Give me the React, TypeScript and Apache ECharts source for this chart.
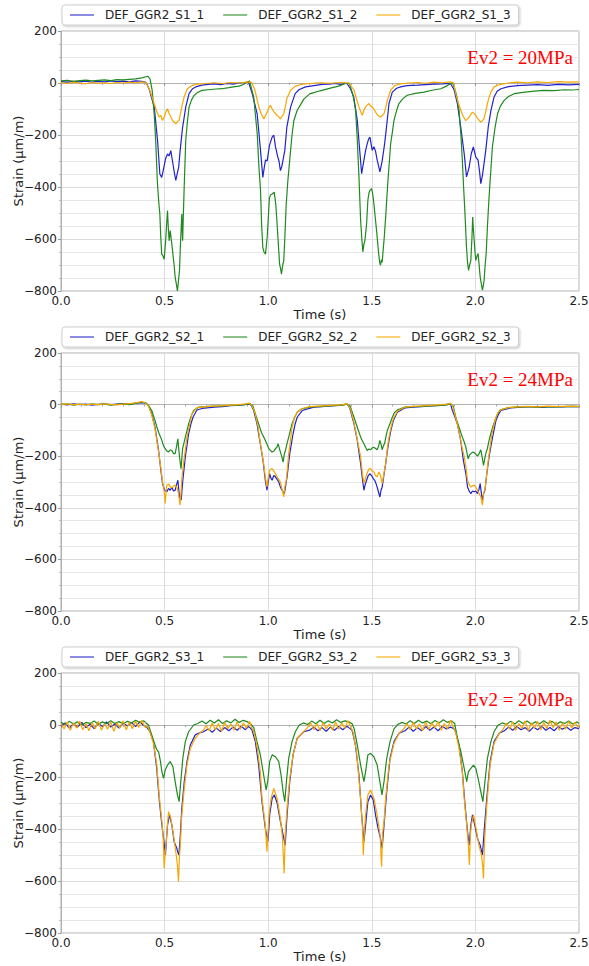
import React, { useEffect, useRef } from "react";
import * as echarts from "echarts";

// ---------- data (time s, strain µm/m) ----------
const xTicks = [0, 0.5, 1.0, 1.5, 2.0, 2.5];
const yTicks = [-800, -600, -400, -200, 0, 200];

const namesS1 = ["DEF_GGR2_S1_1", "DEF_GGR2_S1_2", "DEF_GGR2_S1_3"];
const namesS2 = ["DEF_GGR2_S2_1", "DEF_GGR2_S2_2", "DEF_GGR2_S2_3"];
const namesS3 = ["DEF_GGR2_S3_1", "DEF_GGR2_S3_2", "DEF_GGR2_S3_3"];
const annotations = ["Ev2 = 20MPa", "Ev2 = 24MPa", "Ev2 = 20MPa"];

const s1_1: number[][] = [
  [0,5],[0.03,3],[0.06,6],[0.09,4],[0.12,7],[0.15,3],[0.18,6],[0.21,4],[0.24,8],[0.27,5],[0.3,7],[0.33,4],[0.36,8],[0.39,6],[0.41,3],
  [0.425,-22],[0.45,-93],[0.466,-221],[0.477,-350],[0.486,-363],[0.495,-330],[0.505,-290],[0.514,-273],[0.522,-280],[0.53,-260],[0.538,-300],[0.546,-340],[0.554,-375],[0.562,-345],[0.568,-324],[0.575,-260],[0.586,-176],[0.602,-93],[0.618,-41],[0.635,-22],[0.65,-15],[0.68,-8],[0.71,-5],
  [0.74,-3],[0.77,-6],[0.8,-2],[0.83,-4],[0.86,0],[0.89,2],[0.905,4],
  [0.923,-41],[0.947,-120],[0.963,-260],[0.974,-363],[0.98,-330],[0.987,-296],[0.995,-300],[1.006,-240],[1.019,-208],[1.027,-200],[1.035,-245],[1.045,-280],[1.052,-300],[1.059,-337],[1.066,-320],[1.073,-290],[1.08,-260],[1.09,-170],[1.108,-93],[1.13,-41],[1.15,-25],[1.18,-15],[1.22,-10],[1.26,-5],
  [1.29,-4],[1.32,-2],[1.35,-5],[1.37,-1],
  [1.381,-3],[1.397,-22],[1.413,-54],[1.43,-144],[1.443,-272],[1.451,-349],[1.462,-297],[1.47,-260],[1.478,-233],[1.485,-215],[1.491,-208],[1.502,-259],[1.51,-245],[1.518,-262],[1.526,-297],[1.533,-320],[1.539,-342],[1.545,-320],[1.55,-300],[1.562,-233],[1.571,-169],[1.583,-79],[1.599,-35],[1.62,-20],[1.639,-15],[1.67,-10],[1.72,-8],
  [1.76,-6],[1.8,-4],[1.84,-3],[1.87,-2],
  [1.881,-4],[1.897,-25],[1.913,-79],[1.929,-169],[1.946,-272],[1.957,-361],[1.963,-345],[1.97,-323],[1.98,-272],[1.99,-246],[2.002,-285],[2.013,-297],[2.02,-340],[2.026,-387],[2.034,-355],[2.04,-320],[2.05,-259],[2.062,-169],[2.075,-105],[2.09,-54],[2.105,-32],[2.123,-22],[2.16,-14],[2.203,-10],
  [2.25,-8],[2.3,-6],[2.35,-9],[2.4,-5],[2.45,-7],[2.5,-5],
];

const s1_2: number[][] = [
  [0,8],[0.03,10],[0.06,6],[0.09,9],[0.12,11],[0.15,8],[0.18,10],[0.21,12],[0.24,9],[0.27,13],[0.3,12],[0.33,14],[0.36,16],[0.39,20],[0.41,24],[0.42,26],[0.43,15],
  [0.44,-28],[0.45,-120],[0.457,-221],[0.465,-380],[0.472,-460],[0.477,-504],[0.482,-600],[0.486,-658],[0.492,-665],[0.498,-678],[0.505,-607],[0.51,-540],[0.514,-491],[0.518,-560],[0.522,-607],[0.527,-568],[0.535,-620],[0.54,-658],[0.546,-700],[0.551,-748],[0.556,-770],[0.562,-800],[0.567,-761],[0.572,-720],[0.576,-630],[0.58,-560],[0.583,-504],[0.587,-607],[0.59,-520],[0.594,-414],[0.602,-221],[0.61,-150],[0.618,-93],[0.63,-65],[0.642,-48],[0.66,-36],[0.682,-28],[0.72,-25],[0.75,-23],[0.778,-22],[0.81,-18],[0.84,-14],[0.859,-12],[0.88,-6],[0.9,4],[0.91,8],
  [0.93,-54],[0.947,-195],[0.955,-320],[0.963,-414],[0.968,-540],[0.974,-633],[0.98,-650],[0.987,-658],[0.995,-594],[1.006,-440],[1.012,-430],[1.019,-427],[1.029,-420],[1.037,-470],[1.046,-581],[1.055,-697],[1.06,-715],[1.064,-735],[1.07,-700],[1.075,-684],[1.08,-600],[1.087,-465],[1.095,-375],[1.108,-260],[1.115,-200],[1.124,-144],[1.14,-105],[1.155,-85],[1.172,-62],[1.2,-42],[1.25,-30],[1.3,-20],[1.34,-12],[1.373,-2],[1.39,0],
  [1.397,-15],[1.41,-50],[1.422,-105],[1.43,-220],[1.438,-361],[1.446,-528],[1.452,-600],[1.457,-650],[1.462,-620],[1.467,-605],[1.475,-541],[1.481,-451],[1.487,-420],[1.491,-413],[1.499,-406],[1.505,-430],[1.51,-464],[1.517,-520],[1.523,-567],[1.533,-656],[1.538,-690],[1.542,-701],[1.546,-680],[1.55,-690],[1.555,-640],[1.559,-605],[1.567,-515],[1.572,-450],[1.578,-374],[1.585,-300],[1.591,-233],[1.6,-185],[1.607,-144],[1.62,-105],[1.631,-79],[1.65,-60],[1.671,-47],[1.71,-40],[1.752,-35],[1.79,-28],[1.833,-22],[1.86,-12],[1.875,-5],[1.889,2],
  [1.897,-15],[1.91,-50],[1.921,-105],[1.93,-200],[1.937,-297],[1.943,-400],[1.949,-490],[1.953,-560],[1.957,-631],[1.962,-690],[1.967,-721],[1.972,-700],[1.978,-682],[1.983,-600],[1.987,-515],[1.99,-560],[1.994,-605],[1.998,-650],[2.002,-682],[2.008,-665],[2.013,-656],[2.018,-700],[2.023,-746],[2.028,-770],[2.034,-797],[2.038,-780],[2.042,-759],[2.047,-700],[2.052,-656],[2.058,-554],[2.063,-480],[2.068,-413],[2.075,-330],[2.082,-246],[2.095,-170],[2.107,-118],[2.12,-90],[2.139,-67],[2.16,-52],[2.187,-41],[2.23,-36],[2.284,-31],[2.33,-28],[2.38,-29],[2.43,-26],[2.47,-27],[2.5,-25],
];

const s1_3: number[][] = [
  [0,2],[0.03,-2],[0.06,3],[0.09,0],[0.12,-3],[0.15,2],[0.18,-1],[0.21,1],[0.24,-2],[0.27,2],[0.3,0],[0.33,3],[0.36,1],[0.39,4],[0.41,2],
  [0.425,-22],[0.438,-50],[0.45,-80],[0.462,-110],[0.474,-131],[0.482,-125],[0.49,-144],[0.498,-130],[0.506,-112],[0.514,-99],[0.522,-118],[0.53,-130],[0.538,-144],[0.546,-150],[0.554,-157],[0.562,-148],[0.57,-144],[0.578,-112],[0.586,-80],[0.594,-54],[0.61,-22],[0.634,-9],[0.66,-4],[0.7,-2],
  [0.74,1],[0.78,-2],[0.82,2],[0.86,0],[0.9,4],[0.92,2],
  [0.935,-25],[0.955,-93],[0.967,-120],[0.979,-138],[0.987,-125],[0.995,-112],[1.003,-95],[1.011,-86],[1.019,-100],[1.027,-110],[1.043,-125],[1.051,-130],[1.059,-138],[1.067,-128],[1.075,-118],[1.083,-90],[1.09,-60],[1.108,-28],[1.13,-13],[1.16,-5],[1.2,-2],
  [1.25,1],[1.3,-1],[1.35,2],[1.39,0],
  [1.414,-28],[1.426,-60],[1.438,-92],[1.446,-110],[1.454,-124],[1.462,-105],[1.47,-92],[1.478,-85],[1.486,-79],[1.494,-88],[1.502,-92],[1.51,-100],[1.518,-112],[1.53,-125],[1.542,-131],[1.55,-125],[1.559,-118],[1.567,-95],[1.575,-67],[1.591,-28],[1.61,-10],[1.64,-3],
  [1.68,0],[1.72,2],[1.76,-1],[1.8,3],[1.84,1],[1.88,4],[1.895,0],
  [1.905,-41],[1.917,-75],[1.929,-105],[1.941,-128],[1.953,-144],[1.962,-138],[1.97,-131],[1.978,-120],[1.986,-112],[1.994,-118],[2.002,-125],[2.014,-140],[2.026,-150],[2.034,-145],[2.042,-136],[2.05,-110],[2.058,-79],[2.066,-55],[2.075,-35],[2.09,-15],[2.12,-5],[2.16,0],
  [2.2,3],[2.25,1],[2.3,4],[2.35,2],[2.4,5],[2.45,3],[2.5,4],
];

const s2_1: number[][] = [
  [0,2],[0.03,-1],[0.06,3],[0.09,0],[0.12,2],[0.15,-2],[0.18,1],[0.21,3],[0.24,0],[0.27,2],[0.3,4],[0.33,2],[0.36,6],[0.39,8],[0.41,5],[0.422,-4],
  [0.438,-36],[0.454,-88],[0.471,-178],[0.482,-255],[0.49,-306],[0.5,-332],[0.511,-338],[0.519,-325],[0.527,-332],[0.535,-320],[0.543,-335],[0.551,-332],[0.558,-310],[0.564,-293],[0.572,-358],[0.58,-370],[0.588,-293],[0.6,-203],[0.616,-113],[0.627,-75],[0.637,-49],[0.656,-21],[0.68,-15],[0.704,-13],
  [0.74,-10],[0.78,-8],[0.817,-4],[0.85,-3],[0.89,0],[0.91,3],[0.92,-5],
  [0.93,-23],[0.946,-75],[0.962,-152],[0.975,-216],[0.986,-293],[0.994,-332],[1.0,-300],[1.007,-268],[1.013,-285],[1.019,-293],[1.027,-275],[1.035,-280],[1.043,-290],[1.051,-300],[1.059,-320],[1.067,-332],[1.078,-345],[1.085,-310],[1.091,-280],[1.104,-190],[1.12,-113],[1.13,-75],[1.14,-49],[1.164,-23],[1.22,-10],
  [1.26,-8],[1.3,-5],[1.34,-3],[1.365,0],[1.38,2],[1.39,-8],
  [1.397,-23],[1.414,-75],[1.43,-139],[1.446,-229],[1.455,-290],[1.462,-332],[1.468,-310],[1.475,-293],[1.483,-275],[1.491,-268],[1.499,-275],[1.507,-287],[1.515,-295],[1.523,-312],[1.531,-335],[1.539,-358],[1.545,-330],[1.55,-320],[1.559,-270],[1.567,-229],[1.575,-180],[1.583,-139],[1.592,-100],[1.604,-62],[1.623,-30],[1.66,-13],
  [1.7,-10],[1.74,-8],[1.78,-5],[1.82,-3],[1.86,0],[1.88,3],
  [1.889,-23],[1.9,-45],[1.913,-75],[1.929,-139],[1.942,-216],[1.954,-268],[1.962,-319],[1.97,-335],[1.978,-345],[1.986,-335],[1.994,-338],[2.002,-335],[2.01,-345],[2.017,-330],[2.023,-306],[2.029,-345],[2.034,-370],[2.04,-345],[2.046,-332],[2.055,-268],[2.066,-203],[2.075,-160],[2.083,-126],[2.099,-62],[2.11,-40],[2.123,-23],[2.17,-13],
  [2.22,-10],[2.27,-8],[2.32,-11],[2.37,-8],[2.42,-9],[2.47,-7],[2.5,-8],
];

const s2_2: number[][] = [
  [0,0],[0.03,3],[0.06,-2],[0.09,2],[0.12,-1],[0.15,3],[0.18,0],[0.21,2],[0.24,-2],[0.27,1],[0.3,3],[0.33,0],[0.36,5],[0.39,10],[0.41,6],[0.422,-3],
  [0.438,-23],[0.454,-62],[0.462,-85],[0.471,-107],[0.48,-125],[0.487,-139],[0.495,-160],[0.503,-171],[0.511,-180],[0.519,-184],[0.527,-175],[0.535,-178],[0.543,-190],[0.551,-190],[0.557,-165],[0.564,-133],[0.568,-170],[0.572,-203],[0.579,-248],[0.583,-210],[0.587,-171],[0.593,-150],[0.6,-126],[0.616,-75],[0.628,-45],[0.64,-23],[0.664,-10],[0.7,-8],
  [0.74,-6],[0.78,-5],[0.82,-3],[0.86,-2],[0.89,1],[0.91,4],[0.925,-3],
  [0.938,-36],[0.954,-75],[0.962,-95],[0.97,-113],[0.978,-125],[0.986,-139],[0.995,-155],[1.003,-171],[1.011,-178],[1.019,-184],[1.027,-180],[1.035,-171],[1.042,-165],[1.048,-152],[1.054,-170],[1.059,-184],[1.065,-200],[1.072,-223],[1.077,-195],[1.083,-178],[1.091,-150],[1.099,-126],[1.107,-100],[1.115,-75],[1.127,-50],[1.14,-30],[1.16,-17],[1.2,-10],
  [1.24,-8],[1.28,-6],[1.32,-4],[1.36,-2],[1.38,2],[1.395,-5],
  [1.414,-49],[1.43,-88],[1.446,-126],[1.454,-140],[1.462,-152],[1.47,-165],[1.478,-178],[1.486,-172],[1.494,-175],[1.502,-168],[1.51,-165],[1.518,-170],[1.526,-175],[1.533,-160],[1.539,-139],[1.545,-155],[1.55,-175],[1.556,-160],[1.562,-150],[1.568,-125],[1.575,-100],[1.587,-75],[1.599,-49],[1.61,-30],[1.625,-20],[1.66,-10],
  [1.7,-8],[1.74,-7],[1.78,-5],[1.82,-4],[1.86,-1],[1.88,3],[1.893,-5],
  [1.905,-49],[1.921,-88],[1.937,-126],[1.946,-145],[1.954,-165],[1.96,-190],[1.965,-210],[1.972,-195],[1.978,-190],[1.986,-185],[1.994,-185],[2.002,-192],[2.01,-200],[2.018,-190],[2.026,-175],[2.032,-200],[2.039,-236],[2.045,-210],[2.05,-190],[2.058,-170],[2.066,-139],[2.075,-110],[2.083,-88],[2.095,-60],[2.107,-36],[2.12,-20],[2.16,-12],
  [2.2,-10],[2.25,-8],[2.3,-10],[2.35,-8],[2.4,-9],[2.45,-7],[2.5,-8],
];

const s2_3: number[][] = [
  [0,1],[0.03,3],[0.06,0],[0.09,2],[0.12,-1],[0.15,2],[0.18,0],[0.21,3],[0.24,1],[0.27,-1],[0.3,2],[0.33,4],[0.36,7],[0.39,12],[0.41,4],[0.422,-5],
  [0.438,-40],[0.454,-95],[0.471,-185],[0.482,-245],[0.49,-300],[0.495,-319],[0.5,-350],[0.503,-383],[0.507,-340],[0.511,-312],[0.519,-308],[0.527,-319],[0.535,-322],[0.543,-316],[0.551,-312],[0.559,-319],[0.567,-345],[0.575,-390],[0.58,-330],[0.583,-290],[0.591,-229],[0.6,-175],[0.608,-126],[0.62,-80],[0.632,-36],[0.656,-12],[0.7,-8],
  [0.74,-6],[0.78,-4],[0.82,-2],[0.86,0],[0.89,3],[0.91,6],[0.922,-5],
  [0.935,-30],[0.95,-80],[0.962,-150],[0.978,-229],[0.986,-280],[0.994,-319],[1.0,-285],[1.007,-255],[1.013,-250],[1.019,-248],[1.03,-261],[1.043,-280],[1.051,-290],[1.059,-300],[1.067,-330],[1.075,-358],[1.08,-320],[1.088,-290],[1.099,-190],[1.107,-140],[1.115,-88],[1.127,-50],[1.14,-30],[1.164,-15],[1.2,-8],
  [1.24,-6],[1.28,-4],[1.32,-2],[1.36,0],[1.38,4],[1.39,-6],
  [1.4,-25],[1.414,-70],[1.43,-135],[1.446,-203],[1.455,-270],[1.462,-306],[1.468,-290],[1.478,-265],[1.486,-250],[1.494,-248],[1.502,-258],[1.51,-261],[1.518,-275],[1.526,-280],[1.534,-261],[1.542,-275],[1.55,-306],[1.558,-270],[1.567,-229],[1.575,-170],[1.583,-126],[1.595,-80],[1.604,-55],[1.623,-26],[1.66,-10],
  [1.7,-7],[1.74,-5],[1.78,-3],[1.82,-1],[1.86,2],[1.88,5],[1.89,-5],
  [1.905,-50],[1.92,-100],[1.934,-160],[1.946,-203],[1.954,-240],[1.962,-294],[1.97,-310],[1.978,-319],[1.986,-315],[1.994,-312],[2.002,-320],[2.01,-332],[2.018,-345],[2.026,-358],[2.034,-390],[2.04,-340],[2.046,-332],[2.052,-290],[2.06,-229],[2.068,-180],[2.075,-139],[2.083,-100],[2.099,-49],[2.11,-30],[2.123,-20],[2.16,-12],
  [2.2,-9],[2.25,-7],[2.3,-9],[2.35,-6],[2.4,-8],[2.45,-6],[2.5,-7],
];

const s3_1: number[][] = [
  [0,-5],[0.02,8],[0.04,-12],[0.06,5],[0.08,-8],[0.1,10],[0.12,-10],[0.14,3],[0.16,-14],[0.18,6],[0.2,-6],[0.22,12],[0.24,-8],[0.26,4],[0.28,-12],[0.3,8],[0.32,-4],[0.34,10],[0.36,-6],[0.38,12],[0.4,-2],[0.415,-10],
  [0.43,-26],[0.446,-64],[0.462,-167],[0.475,-295],[0.487,-385],[0.495,-436],[0.504,-500],[0.509,-440],[0.514,-385],[0.524,-346],[0.535,-385],[0.546,-449],[0.559,-474],[0.564,-490],[0.569,-500],[0.575,-436],[0.583,-320],[0.595,-218],[0.608,-141],[0.624,-77],[0.648,-38],[0.668,-30],[0.688,-26],
  [0.71,-15],[0.73,-28],[0.75,-12],[0.77,-25],[0.79,-10],[0.81,-22],[0.83,-8],[0.85,-20],[0.87,-5],[0.89,-18],[0.905,-6],[0.914,-12],
  [0.922,-20],[0.938,-64],[0.954,-154],[0.97,-295],[0.986,-397],[0.998,-449],[1.003,-400],[1.007,-346],[1.019,-282],[1.03,-269],[1.043,-300],[1.059,-372],[1.072,-423],[1.082,-462],[1.086,-410],[1.091,-346],[1.104,-218],[1.12,-115],[1.14,-51],[1.172,-26],[1.2,-20],
  [1.22,-8],[1.24,-22],[1.26,-10],[1.28,-24],[1.3,-8],[1.32,-20],[1.34,-6],[1.36,-18],[1.38,-5],[1.395,-14],
  [1.405,-20],[1.421,-77],[1.438,-192],[1.451,-346],[1.462,-449],[1.47,-385],[1.481,-295],[1.494,-269],[1.507,-288],[1.518,-346],[1.53,-397],[1.542,-436],[1.55,-474],[1.559,-385],[1.572,-256],[1.588,-128],[1.607,-64],[1.631,-32],[1.66,-22],
  [1.68,-8],[1.7,-24],[1.72,-10],[1.74,-22],[1.76,-6],[1.78,-20],[1.8,-8],[1.82,-22],[1.84,-5],[1.86,-15],[1.88,-8],[1.895,-14],
  [1.905,-26],[1.921,-77],[1.937,-180],[1.95,-308],[1.962,-410],[1.97,-462],[1.978,-385],[1.986,-346],[1.997,-385],[2.01,-436],[2.023,-462],[2.034,-500],[2.042,-410],[2.055,-282],[2.071,-141],[2.09,-64],[2.115,-32],[2.14,-22],
  [2.16,-8],[2.18,-20],[2.2,-6],[2.22,-18],[2.24,-10],[2.26,-24],[2.28,-8],[2.3,-18],[2.32,-5],[2.34,-20],[2.36,-10],[2.38,-22],[2.4,-6],[2.42,-16],[2.44,-8],[2.46,-20],[2.48,-10],[2.5,-14],
];

const s3_2: number[][] = [
  [0,10],[0.02,2],[0.04,14],[0.06,4],[0.08,12],[0.1,0],[0.12,10],[0.14,6],[0.16,15],[0.18,3],[0.2,12],[0.22,5],[0.24,16],[0.26,6],[0.28,13],[0.3,4],[0.32,14],[0.34,8],[0.36,18],[0.38,10],[0.4,16],[0.41,8],
  [0.422,0],[0.438,-38],[0.454,-77],[0.462,-95],[0.471,-103],[0.48,-140],[0.487,-180],[0.495,-205],[0.503,-173],[0.514,-154],[0.527,-141],[0.54,-160],[0.551,-218],[0.562,-269],[0.57,-295],[0.578,-218],[0.588,-128],[0.6,-64],[0.616,-26],[0.64,0],[0.66,6],
  [0.68,15],[0.7,5],[0.72,18],[0.74,8],[0.76,20],[0.78,6],[0.8,16],[0.82,8],[0.84,22],[0.86,10],[0.88,18],[0.9,12],[0.915,5],
  [0.93,-10],[0.946,-64],[0.962,-115],[0.978,-192],[0.99,-250],[0.998,-215],[1.007,-141],[1.019,-115],[1.035,-122],[1.051,-141],[1.062,-192],[1.072,-256],[1.08,-295],[1.088,-218],[1.099,-128],[1.115,-64],[1.131,-26],[1.15,0],[1.17,8],
  [1.19,2],[1.21,15],[1.23,5],[1.25,18],[1.27,6],[1.29,16],[1.31,8],[1.33,20],[1.35,10],[1.37,16],[1.39,12],[1.405,5],
  [1.415,-15],[1.43,-77],[1.446,-154],[1.462,-218],[1.47,-180],[1.481,-115],[1.494,-109],[1.51,-122],[1.526,-154],[1.539,-218],[1.549,-269],[1.559,-218],[1.572,-128],[1.588,-64],[1.607,-15],[1.625,2],[1.645,10],
  [1.665,4],[1.685,16],[1.705,6],[1.725,18],[1.745,8],[1.765,15],[1.785,5],[1.805,17],[1.825,8],[1.845,20],[1.865,10],[1.885,16],[1.9,6],
  [1.913,-51],[1.93,-103],[1.946,-167],[1.958,-218],[1.966,-180],[1.978,-167],[1.991,-154],[2.002,-167],[2.013,-205],[2.026,-256],[2.036,-295],[2.046,-218],[2.058,-128],[2.075,-64],[2.09,-26],[2.11,0],[2.13,8],
  [2.15,2],[2.17,14],[2.19,4],[2.21,16],[2.23,6],[2.25,15],[2.27,3],[2.29,12],[2.31,5],[2.33,16],[2.35,6],[2.37,14],[2.39,2],[2.41,12],[2.43,6],[2.45,15],[2.47,4],[2.49,12],[2.5,6],
];

const s3_3: number[][] = [
  [0,5],[0.015,-15],[0.03,12],[0.045,-20],[0.06,8],[0.075,-12],[0.09,15],[0.105,-18],[0.12,6],[0.135,-22],[0.15,10],[0.165,-14],[0.18,14],[0.195,-20],[0.21,4],[0.225,-16],[0.24,12],[0.255,-24],[0.27,8],[0.285,-12],[0.3,16],[0.315,-18],[0.33,10],[0.345,-14],[0.36,14],[0.375,-10],[0.39,18],[0.405,-8],[0.418,-5],
  [0.43,-30],[0.446,-70],[0.462,-150],[0.475,-280],[0.487,-372],[0.493,-430],[0.498,-551],[0.503,-490],[0.508,-449],[0.514,-380],[0.519,-333],[0.53,-359],[0.543,-423],[0.556,-500],[0.562,-540],[0.567,-603],[0.572,-500],[0.575,-474],[0.583,-346],[0.595,-243],[0.608,-154],[0.624,-90],[0.648,-51],[0.67,-30],[0.688,-20],
  [0.7,-2],[0.715,-22],[0.73,8],[0.745,-18],[0.76,6],[0.775,-24],[0.79,10],[0.805,-14],[0.82,4],[0.835,-20],[0.85,12],[0.865,-16],[0.88,8],[0.895,-12],[0.91,14],[0.92,-10],
  [0.93,-25],[0.946,-80],[0.962,-180],[0.97,-282],[0.986,-385],[0.994,-487],[1.0,-400],[1.004,-346],[1.014,-282],[1.027,-244],[1.043,-282],[1.059,-359],[1.069,-436],[1.077,-571],[1.082,-423],[1.091,-320],[1.104,-205],[1.12,-115],[1.14,-51],[1.17,-26],[1.19,-10],
  [1.205,8],[1.22,-18],[1.235,6],[1.25,-22],[1.265,10],[1.28,-14],[1.295,4],[1.31,-20],[1.325,12],[1.34,-16],[1.355,8],[1.37,-12],[1.385,16],[1.398,-6],
  [1.41,-30],[1.426,-100],[1.446,-282],[1.454,-380],[1.459,-500],[1.465,-400],[1.47,-346],[1.481,-269],[1.494,-250],[1.51,-282],[1.526,-346],[1.54,-423],[1.547,-545],[1.553,-410],[1.559,-372],[1.567,-282],[1.583,-154],[1.607,-71],[1.631,-32],[1.655,-15],
  [1.67,6],[1.685,-18],[1.7,10],[1.715,-14],[1.73,4],[1.745,-22],[1.76,12],[1.775,-16],[1.79,8],[1.805,-12],[1.82,14],[1.835,-20],[1.85,6],[1.865,-14],[1.88,18],[1.893,-8],
  [1.905,-30],[1.921,-90],[1.937,-180],[1.946,-282],[1.958,-385],[1.966,-460],[1.971,-538],[1.976,-420],[1.98,-385],[1.991,-346],[2.003,-397],[2.017,-462],[2.029,-500],[2.035,-540],[2.039,-590],[2.044,-449],[2.055,-308],[2.071,-154],[2.09,-71],[2.115,-32],[2.135,-15],
  [2.15,8],[2.165,-16],[2.18,12],[2.195,-20],[2.21,6],[2.225,-14],[2.24,16],[2.255,-22],[2.27,8],[2.285,-12],[2.3,14],[2.315,-18],[2.33,10],[2.345,-14],[2.36,18],[2.375,-10],[2.39,12],[2.405,-20],[2.42,8],[2.435,-16],[2.45,14],[2.465,-12],[2.48,10],[2.495,-8],[2.5,0],
];

const panelNames = [namesS1, namesS2, namesS3];
const panelData = [
  [s1_1, s1_2, s1_3],
  [s2_1, s2_2, s2_3],
  [s3_1, s3_2, s3_3],
];

// ---------- styling ----------
const COLORS = ["#2222cc", "#1f8a1f", "#f7a600"];
const FONT = "DejaVu Sans";
const W = 589;
const H = 966;
const GRID_TOPS = [31, 353, 673];
const GRID_HEIGHTS = [260, 258, 260];
const GRID_LEFT = 61;
const GRID_RIGHT = 10;

function fmtY(v: number) {
  return v < 0 ? "\u2212" + Math.abs(v) : String(v);
}

export default function App() {
  const ref = useRef<HTMLDivElement>(null);

  useEffect(() => {
    if (!ref.current) return;
    const chart = echarts.init(ref.current, null, { renderer: "svg" });

    const grids = GRID_TOPS.map((top, i) => ({
      left: GRID_LEFT,
      right: GRID_RIGHT,
      top,
      height: GRID_HEIGHTS[i],
      containLabel: false,
      outerBoundsMode: "none",
      show: true,
      borderColor: "#b0b0b0",
      borderWidth: 1,
      backgroundColor: "#fff",
    }));

    const xAxes = GRID_TOPS.map((_, i) => ({
      type: "value",
      gridIndex: i,
      min: xTicks[0],
      max: xTicks[xTicks.length - 1],
      interval: 0.5,
      name: "Time (s)",
      nameLocation: "middle",
      nameGap: 17,
      nameMoveOverlap: false,
      nameTextStyle: { fontFamily: FONT, fontSize: 13, color: "#222" },
      axisLine: { show: true, lineStyle: { color: "#b0b0b0" } },
      axisTick: { show: true, length: 3, lineStyle: { color: "#999" } },
      minorTick: { show: true, splitNumber: 5, length: 2, lineStyle: { color: "#aaa" } },
      axisLabel: {
        fontFamily: FONT,
        fontSize: 12,
        color: "#222",
        margin: 4,
        formatter: (v: number) => v.toFixed(1),
      },
      splitLine: { show: true, lineStyle: { color: "#dcdce4", width: 1 } },
      minorSplitLine: { show: false },
    }));

    const yAxes = GRID_TOPS.map((_, i) => ({
      type: "value",
      gridIndex: i,
      min: yTicks[0],
      max: yTicks[yTicks.length - 1],
      interval: 200,
      name: "Strain (\u03bcm/m)",
      nameLocation: "middle",
      nameGap: 36,
      nameMoveOverlap: false,
      nameTextStyle: { fontFamily: FONT, fontSize: 13, color: "#222" },
      axisLine: { show: true, lineStyle: { color: "#b0b0b0" } },
      axisTick: { show: true, length: 3, lineStyle: { color: "#999" } },
      minorTick: { show: true, splitNumber: 4, length: 2, lineStyle: { color: "#bbb" } },
      axisLabel: {
        fontFamily: FONT,
        fontSize: 12,
        color: "#222",
        margin: 4,
        formatter: fmtY,
      },
      splitLine: { show: true, lineStyle: { color: "#dcdcdc", width: 1 } },
      minorSplitLine: { show: true, lineStyle: { color: "#e6e6e6", width: 1 } },
    }));

    const series: any[] = [];
    panelData.forEach((group, p) => {
      group.forEach((d, k) => {
        series.push({
          type: "line",
          name: panelNames[p][k],
          xAxisIndex: p,
          yAxisIndex: p,
          data: d,
          showSymbol: false,
          symbol: "none",
          lineStyle: { color: COLORS[k], width: 1.2 },
          itemStyle: { color: COLORS[k] },
          z: 2 + k,
        });
      });
    });

    const legends = GRID_TOPS.map((top, p) => ({
      left: 62,
      top: top - 26,
      data: panelNames[p],
      icon: "rect",
      itemWidth: 24,
      itemHeight: 1.5,
      itemGap: 19,
      backgroundColor: "#fff",
      borderColor: "#cfcfcf",
      borderWidth: 1,
      borderRadius: 3,
      padding: [4, 8],
      shadowBlur: 2,
      shadowColor: "rgba(0,0,0,0.25)",
      shadowOffsetX: 1,
      shadowOffsetY: 1,
      itemStyle: { opacity: 0.7 },
      textStyle: { fontFamily: FONT, fontSize: 12, color: "#222", padding: [0, 0, 0, 6] },
      selectedMode: false,
    }));

    const graphic = GRID_TOPS.map((top, p) => ({
      type: "text",
      right: GRID_RIGHT + 6,
      top: top + 17,
      style: {
        text: annotations[p],
        fill: "#ff0000",
        font: '19px "Liberation Serif", "Times New Roman", serif',
      },
      z: 10,
    }));

    chart.setOption({
      animation: false,
      backgroundColor: "#fff",
      grid: grids,
      xAxis: xAxes,
      yAxis: yAxes,
      legend: legends,
      series,
      graphic,
    });

    return () => chart.dispose();
  }, []);

  return (
    <div
      ref={ref}
      style={{ position: "fixed", left: 0, top: 0, width: W, height: H, background: "#fff" }}
    />
  );
}
